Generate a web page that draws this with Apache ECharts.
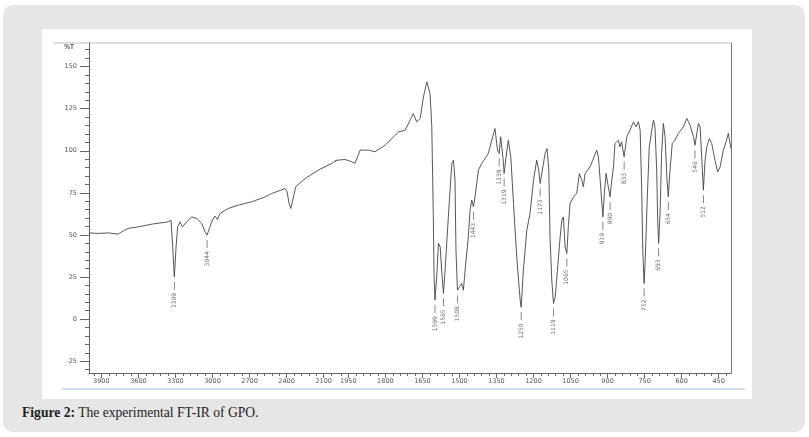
<!DOCTYPE html>
<html>
<head>
<meta charset="utf-8">
<script src="https://cdn.jsdelivr.net/npm/echarts@6/dist/echarts.min.js"></script>
<style>
  html, body { margin: 0; padding: 0; background: #ffffff; }
  #panel { position: absolute; left: 3px; top: 5px; width: 802px; height: 427px; background: #e6e6e6; border-radius: 10px; }
  #white { position: absolute; left: 42px; top: 29px; width: 710px; height: 370px; background: #ffffff; }
  #caption { position: absolute; left: 22px; top: 405px; font-family: "Liberation Serif", "DejaVu Serif", serif; font-size: 13.6px; color: #222; white-space: nowrap; }
  #chart { position: absolute; left: 0; top: 0; width: 809px; height: 437px; }
</style>
</head>
<body>
<div id="panel"></div>
<div id="white"></div>
<div id="caption"><b>Figure 2:</b> The experimental FT-IR of GPO.</div>
<div id="chart"></div>
<script>
// ---- Data (wavenumber in 1/cm, transmittance in %T) ----
const wavenumber = [
  4000, 3925, 3844, 3763, 3722, 3682, 3601, 3492, 3358, 3336, 3322, 3309, 3295, 3282, 3263, 3244, 3209, 3168, 3128, 3087,
  3060, 3044, 3025, 3001, 2979, 2961, 2939, 2872, 2791, 2682, 2574, 2547, 2520, 2412, 2396, 2380, 2366, 2350, 2326, 2250,
  2143, 2034, 1994, 1963, 1936, 1923, 1902, 1869, 1842, 1801, 1747, 1720, 1687, 1673, 1659, 1646, 1632, 1619, 1612, 1606,
  1603, 1599, 1592, 1585, 1578, 1572, 1565, 1558, 1545, 1531, 1524, 1518, 1514, 1508, 1500, 1491, 1484, 1477, 1464, 1457,
  1450, 1443, 1437, 1423, 1410, 1396, 1383, 1369, 1356, 1346, 1339, 1333, 1324, 1319, 1311, 1302, 1292, 1281, 1268, 1254,
  1250, 1241, 1227, 1214, 1200, 1187, 1179, 1173, 1162, 1153, 1145, 1138, 1133, 1126, 1119, 1112, 1103, 1092, 1085, 1079,
  1072, 1065, 1059, 1052, 1038, 1025, 1014, 1004, 998, 991, 971, 944, 937, 930, 923, 919, 913, 906, 897, 890,
  883, 876, 870, 856, 850, 843, 833, 822, 809, 795, 785, 775, 768, 762, 757, 752, 747, 739, 731, 721,
  714, 708, 701, 697, 693, 687, 681, 674, 667, 660, 654, 647, 638, 627, 613, 593, 579, 566, 552, 546,
  532, 525, 518, 512, 505, 498, 488, 478, 465, 454, 444, 431, 420, 411, 400
];
const transmittance = [
  51.2, 50.9, 51.2, 50.5, 52.4, 53.9, 54.8, 56.4, 57.8, 58.8, 42.9, 25.1, 42.9, 54.8, 57.8, 54.8, 57.8, 60.7, 59.8, 56.8,
  51.8, 49.9, 53.9, 58.8, 61.2, 59.2, 62.8, 65.7, 67.7, 69.7, 72.6, 73.6, 74.6, 77.6, 75.6, 68.7, 65.7, 70.7, 78.6, 83.5,
  88.5, 92.5, 94.4, 94.8, 93.4, 92.5, 100.4, 100.4, 99.4, 103.3, 111.2, 112.2, 122.1, 117.2, 119.2, 132.0, 140.9, 134.0, 114.2, 62.8,
  27.1, 11.3, 25.1, 45.0, 42.9, 29.1, 15.3, 29.1, 60.7, 92.5, 94.4, 82.5, 41.0, 17.2, 19.2, 21.2, 17.2, 29.1, 48.9, 64.7,
  70.7, 66.7, 72.6, 88.5, 92.5, 95.4, 98.4, 106.3, 113.2, 100.4, 98.4, 108.3, 96.4, 86.5, 96.4, 106.3, 96.4, 68.7, 37.0, 11.3,
  7.0, 29.1, 52.9, 62.8, 82.5, 94.4, 88.5, 80.6, 90.4, 98.4, 101.3, 88.5, 48.9, 23.2, 9.3, 13.2, 29.1, 48.9, 58.8, 60.7,
  42.9, 39.0, 54.8, 68.7, 72.6, 74.6, 86.5, 82.5, 78.6, 86.5, 90.4, 100.4, 96.4, 82.5, 68.7, 60.7, 74.6, 86.5, 78.6, 72.6,
  82.5, 90.4, 104.3, 106.3, 102.3, 105.3, 96.4, 108.3, 112.2, 117.2, 114.2, 117.2, 112.2, 78.6, 39.0, 21.2, 37.0, 72.6, 102.3, 112.2,
  118.2, 114.2, 88.5, 58.8, 45.0, 64.7, 98.4, 116.2, 108.3, 84.5, 72.6, 88.5, 104.3, 106.3, 110.3, 114.2, 119.2, 115.2, 108.3, 103.3,
  116.2, 114.2, 94.4, 76.6, 94.4, 102.3, 107.3, 104.3, 94.4, 87.5, 90.4, 100.4, 105.3, 110.3, 101.3
];

// Labelled peaks (wavenumber, %T at the trough, printed label)
const peakWavenumber = [3309, 3044, 1599, 1565, 1508, 1443, 1339, 1319, 1250, 1173, 1119, 1065, 919, 890, 833, 752, 693, 654, 546, 512];
const peakTransmittance = [25.1, 49.9, 11.3, 15.3, 17.2, 66.7, 98.4, 86.5, 7.0, 80.6, 9.3, 39.0, 60.7, 72.6, 96.4, 21.2, 45.0, 72.6, 103.3, 76.6];
const peakLabel = ["3309", "3044", "1599", "1565", "1508", "1443", "1339", "1319", "1250", "1173", "1119", "1065", "919", "890", "833", "752", "693", "654", "546", "512"];

// Axis tick labels
const xLabelsHigh = [3900, 3600, 3300, 3000, 2700, 2400, 2100];
const xLabelsLow = [1950, 1800, 1650, 1500, 1350, 1200, 1050, 900, 750, 600, 450];
const yLabels = [-25, 0, 25, 50, 75, 100, 125, 150];
const yName = "%T";

// ---- Build ----
const SPLIT = 2000;
const pts = wavenumber.map((w, i) => [w, transmittance[i]]);
const firstLow = wavenumber.findIndex(w => w < SPLIT);
const highPts = pts.slice(0, firstLow + 1);   // include one point past split (clipped)
const lowPts = pts.slice(firstLow - 1);       // include one point before split (clipped)
const peaks = peakWavenumber.map((w, i) => ({ value: [w, peakTransmittance[i]], name: peakLabel[i] }));
const highPeaks = peaks.filter(p => p.value[0] >= SPLIT);
const lowPeaks = peaks.filter(p => p.value[0] < SPLIT);

const minorHigh = []; for (let v = 3960; v > SPLIT; v -= 60) minorHigh.push(v);
const minorLow = []; for (let v = 1980; v >= 400; v -= 30) minorLow.push(v);
const minorY = []; for (let v = -30; v <= 160; v += 5) minorY.push(v);

const Y_MIN = -32, Y_MAX = 164;
const axisColor = '#666';
const plain = v => String(v);
const labelStyle = { fontSize: 6.5, color: '#555', fontFamily: 'DejaVu Sans', formatter: plain };

const grids = [
  { left: 89, top: 43, width: 247, height: 330, outerBoundsMode: 'none' },
  { left: 336, top: 43, width: 395, height: 330, outerBoundsMode: 'none' }
];

function xMajor(grid, min, max, labels) {
  return {
    type: 'value', gridIndex: grid, min: min, max: max, inverse: true, position: 'bottom',
    axisLine: { show: true, onZero: false, lineStyle: { color: axisColor, width: 1 } },
    axisTick: { show: true, customValues: labels, length: 5, lineStyle: { color: axisColor } },
    axisLabel: Object.assign({ show: true, customValues: labels, margin: 5 }, labelStyle),
    splitLine: { show: false }
  };
}
function xMinor(grid, min, max, ticks) {
  return {
    type: 'value', gridIndex: grid, min: min, max: max, inverse: true, position: 'bottom',
    axisLine: { show: false, onZero: false },
    axisTick: { show: true, customValues: ticks, length: 3, lineStyle: { color: axisColor } },
    axisLabel: { show: false },
    splitLine: { show: false }
  };
}

const peakLabelStyle = { show: true, formatter: '{b}', position: 'bottom', distance: 3, rotate: 90, align: 'right', verticalAlign: 'middle', fontSize: 6, color: '#444', fontFamily: 'DejaVu Sans' };

const option = {
  backgroundColor: 'transparent',
  animation: false,
  grid: grids,
  xAxis: [
    xMajor(0, SPLIT, 4000, xLabelsHigh),
    xMajor(1, 400, SPLIT, xLabelsLow),
    xMinor(0, SPLIT, 4000, minorHigh),
    xMinor(1, 400, SPLIT, minorLow)
  ],
  yAxis: [
    {
      type: 'value', gridIndex: 0, min: Y_MIN, max: Y_MAX, position: 'left',
      name: yName, nameLocation: 'end', nameGap: -8,
      nameTextStyle: { fontSize: 6.5, color: '#555', align: 'right', padding: [0, 15, 0, 0], fontWeight: 'bold' },
      axisLine: { show: true, onZero: false, lineStyle: { color: axisColor, width: 1 } },
      axisTick: { show: true, customValues: yLabels, length: 9, lineStyle: { color: axisColor } },
      axisLabel: Object.assign({ show: true, customValues: yLabels, margin: 12 }, labelStyle),
      splitLine: { show: false }
    },
    {
      type: 'value', gridIndex: 1, min: Y_MIN, max: Y_MAX, position: 'right',
      axisLine: { show: true, onZero: false, lineStyle: { color: '#777', width: 1 } },
      axisTick: { show: false }, axisLabel: { show: false }, splitLine: { show: false }
    },
    {
      type: 'value', gridIndex: 0, min: Y_MIN, max: Y_MAX, position: 'left',
      axisLine: { show: false, onZero: false },
      axisTick: { show: true, customValues: minorY, length: 4, lineStyle: { color: axisColor } },
      axisLabel: { show: false }, splitLine: { show: false }
    }
  ],
  graphic: [
    { type: 'line', shape: { x1: 53, y1: 43, x2: 731, y2: 43 }, style: { stroke: '#b4c2d2', lineWidth: 1 }, silent: true },
    { type: 'line', shape: { x1: 62, y1: 389, x2: 745, y2: 389 }, style: { stroke: '#a9c0dc', lineWidth: 1.2 }, silent: true }
  ],
  series: [
    {
      type: 'line', xAxisIndex: 0, yAxisIndex: 0, data: highPts, showSymbol: false, clip: true,
      lineStyle: { color: '#444', width: 0.9 }, z: 3
    },
    {
      type: 'line', xAxisIndex: 1, yAxisIndex: 1, data: lowPts, showSymbol: false, clip: true,
      lineStyle: { color: '#444', width: 0.9 }, z: 3
    },
    {
      type: 'scatter', xAxisIndex: 0, yAxisIndex: 0, data: highPeaks,
      symbol: 'rect', symbolSize: [0.8, 8], symbolOffset: [0, 9],
      itemStyle: { color: '#444' }, label: peakLabelStyle, z: 4
    },
    {
      type: 'scatter', xAxisIndex: 1, yAxisIndex: 1, data: lowPeaks,
      symbol: 'rect', symbolSize: [0.8, 8], symbolOffset: [0, 9],
      itemStyle: { color: '#444' }, label: peakLabelStyle, z: 4
    }
  ]
};

const chart = echarts.init(document.getElementById('chart'), null, { renderer: 'canvas' });
chart.setOption(option);
</script>
</body>
</html>
